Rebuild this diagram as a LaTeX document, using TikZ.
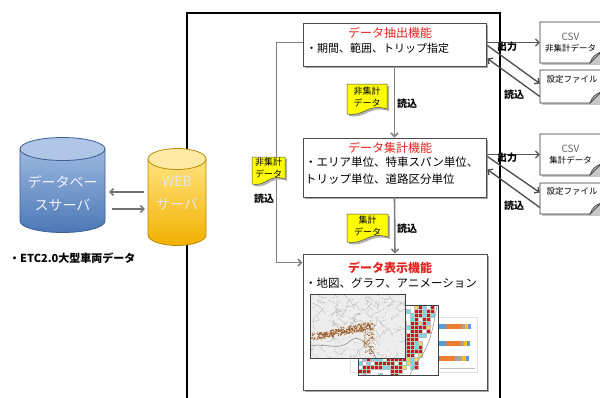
\documentclass[tikz,border=0pt]{standalone}
\usepackage{fontspec}
\setmainfont{Noto Sans CJK JP}
\usetikzlibrary{arrows.meta,calc,shadows}

\definecolor{fred}{HTML}{E8231F}
\definecolor{connGray}{HTML}{808080}
\definecolor{darkArr}{HTML}{4A4A4A}
\definecolor{cylBlueTop}{HTML}{AFC6E6}
\definecolor{cylBlueA}{HTML}{9CB8E0}
\definecolor{cylBlueB}{HTML}{4C78B6}
\definecolor{cylBlueEdge}{HTML}{3B5E8E}
\definecolor{cylYelTop}{HTML}{FFEAA3}
\definecolor{cylYelA}{HTML}{FFE37E}
\definecolor{cylYelB}{HTML}{F2B000}
\definecolor{cylYelEdge}{HTML}{B58C0A}
\definecolor{mapBrown}{HTML}{9A5A1E}
\definecolor{gridRed}{HTML}{C8161D}
\definecolor{gridCyan}{HTML}{6ADCE8}
\definecolor{gridYellow}{HTML}{F4D35E}
\definecolor{barBlue}{HTML}{5B9BD5}
\definecolor{barOrange}{HTML}{ED7D31}
\definecolor{barGray}{HTML}{A5A5A5}
\definecolor{barYellow}{HTML}{FFC000}
\definecolor{memoYellow}{HTML}{FFFF00}

% yellow memo with a wavy lower edge: x1 y1 x2 y2
\newcommand\mkydoc[4]{%
  \fill[black!30] ({#1+2},{#2+2}) -- ({#3+2},{#2+2}) -- ({#3+2},{#4-4}) .. controls ({#3-0.5*(#3-#1)+2},{#4-10}) and ({#1+0.45*(#3-#1)+2},{#4+4}) .. ({#1+2},{#4+1}) -- cycle;
  \filldraw[fill=memoYellow, draw=black!70, line width=0.5pt] (#1,#2) -- (#3,#2) -- (#3,{#4-6}) .. controls ({#3-0.5*(#3-#1)},{#4-12}) and ({#1+0.45*(#3-#1)},{#4+2}) .. (#1,{#4-1}) -- cycle;
}
% file sheet with a curled lower right corner: x1 y1 x2 y2
\newcommand\mkfdoc[4]{%
  \fill[black!22] ({#1+2},{#2+2}) rectangle ({#3+2},{#4+2});
  \filldraw[fill=white, draw=black!80, line width=0.9pt] (#1,#2) -- (#3,#2) -- (#3,{#4-11}) -- ({#3-11},#4) -- (#1,#4) -- cycle;
  \filldraw[fill=black!30, draw=black!75, line width=0.6pt] ({#3-11},#4) .. controls ({#3-9},{#4-6}) and ({#3-6},{#4-9}) .. (#3,{#4-11}) -- cycle;
}

\begin{document}
\begin{tikzpicture}[x=1pt,y=-1pt,
  funcbox/.style={draw=black!70, line width=0.8pt, fill=white, inner sep=0pt,
    drop shadow={shadow xshift=1.5pt, shadow yshift=-1.5pt, opacity=0.35, fill=black}},
  ttl/.style={text=fred, font=\fontsize{12}{14}\selectfont, inner sep=0pt},
  bodytxt/.style={font=\fontsize{11.5}{17}\selectfont, anchor=west, inner sep=0pt, align=left},
  conn/.style={draw=connGray, line width=1.6pt, -{Straight Barb[length=3.5pt,width=7pt]}},
  cylarr/.style={draw=black!55, line width=1.3pt, -{Straight Barb[length=3.5pt,width=7pt]}},
  outarr/.style={draw=black!65, line width=1.2pt, -{Straight Barb[length=3.5pt,width=7pt]}},
  diagarr/.style={draw=darkArr, line width=1.3pt, -{Straight Barb[length=3.5pt,width=7pt]}},
  frameline/.style={draw=black, line width=1.5pt},
  cyltxt/.style={font=\fontsize{14}{23}\selectfont, align=center, inner sep=0pt},
  memotxt/.style={font=\fontsize{9}{11.5}\selectfont, align=center, inner sep=0pt},
  tag/.style={font=\bfseries\fontsize{10}{12}\selectfont, inner sep=0pt},
  filetxt/.style={font=\fontsize{8.5}{11}\selectfont, inner sep=0pt, align=center, minimum width=61pt},
]
\useasboundingbox (0,0) rectangle (600,397);
\clip (0,0) rectangle (600,397);
\fill[white] (0,0) rectangle (600,397);

% system frame
\draw[frameline] (187,400) -- (187,13) -- (500,13) -- (500,400);

% database server cylinder
\path[top color=cylBlueA, bottom color=cylBlueB, draw=cylBlueEdge, line width=0.8pt]
  (20,149) -- (20,221) arc[start angle=180, end angle=360, x radius=42.5pt, y radius=11.5pt] -- (105,149) -- cycle;
\path[fill=cylBlueTop, draw=cylBlueEdge, line width=0.8pt] (62.5,149) ellipse[x radius=42.5pt, y radius=11.5pt];
\node[cyltxt, text=white!85!cylBlueA, minimum width=85pt] (db) at (62.5,193) {データベー\\スサーバ};

% web server cylinder
\path[top color=cylYelA, bottom color=cylYelB, draw=cylYelEdge, line width=0.8pt]
  (148,159) -- (148,235) arc[start angle=180, end angle=360, x radius=29pt, y radius=10.5pt] -- (206,159) -- cycle;
\path[fill=cylYelTop, draw=cylYelEdge, line width=0.8pt] (177,159) ellipse[x radius=29pt, y radius=10.5pt];
\node[cyltxt, text=white!90!black, minimum width=58pt] (web) at (177,193) {WEB\\サーバ};

\draw[cylarr] ($(web.west)+(-4,-1)$) -- ($(db.east)+(4,-1)$);
\draw[cylarr] ($(db.east)+(7,16)$) -- ($(web.west)+(-3,16)$);

\node[font=\bfseries\fontsize{11}{13}\selectfont, anchor=west, inner sep=0pt] (etc) at (9,258) {・ETC2.0大型車両データ};

% function boxes
\node[funcbox, minimum width=183pt, minimum height=43pt] (b1) at (394.5,44.5) {};
\node[funcbox, minimum width=183pt, minimum height=59pt] (b2) at (394.5,167.5) {};
\node[funcbox, minimum width=184pt, minimum height=136pt] (b3) at (395,322) {};

% gray flow connectors
\draw[conn] ($(b1.west)+(0,-2)$) -- ++(-26,0) |- ($(b3.north west)+(0,9)$);
\draw[conn] (b1.south) -- (b2.north);
\draw[conn] (b2.south) -- (b3.north);

% box texts
\node[ttl] (t1) at (390,33) {データ抽出機能};
\node[bodytxt, font=\fontsize{11}{14}\selectfont] (l1) at (306,48.5) {・期間、範囲、トリップ指定};
\node[ttl] (t2) at (390,148) {データ集計機能};
\node[bodytxt] (l2) at (305,171) {・エリア単位、特車スパン単位、\\トリップ単位、道路区分単位};
\node[ttl, font=\bfseries\fontsize{12}{14}\selectfont] (t3) at (390,268) {データ表示機能};
\node[bodytxt] (l3) at (305,283) {・地図、グラフ、アニメーション};

% bar chart
\fill[white] (350,317) rectangle (477,372);
\draw[black!12, line width=0.3pt] (350,317) rectangle (477,372);
\foreach \yy/\a/\b/\c/\d in {324/446/462/465/468, 341/446/461/464/467, 356/440/455/462/466}{
  \fill[barBlue] (400,\yy) rectangle (\a,{\yy+5});
  \fill[barOrange] (\a,\yy) rectangle (\b,{\yy+5});
  \fill[barGray] (\b,\yy) rectangle (\c,{\yy+5});
  \fill[barYellow] (\c,\yy) rectangle (\d,{\yy+5});
  \fill[barBlue] (\d,\yy) rectangle ({\d+2.5},{\yy+5});
}
\draw[black!25, line width=0.3pt] (440,368) -- (475,368);

% mesh map
\begin{scope}
\clip (358,305) rectangle (438,375);
\fill[white] (358,305) rectangle (438,375);
\pgfmathsetseed{11}
\foreach \i in {0,...,19}{
  \foreach \j in {0,...,17}{
    \pgfmathsetmacro\cx{358+4*\i}
    \pgfmathsetmacro\cy{305+4*\j}
    \pgfmathsetmacro\land{(\cx+2) < (436-0.3*(\cy-305)) ? 1 : 0}
    \pgfmathsetmacro\dA{abs(\cx+2-(420-0.35*(\cy-305)))}
    \pgfmathsetmacro\dB{abs(\cx+2-(433-0.6*(\cy-305)))}
    \pgfmathsetmacro\dC{abs(\cy+2-(371-0.35*(\cx-358)))}
    \pgfmathsetmacro\r{rnd}
    \pgfmathtruncatemacro\kind{(\land<0.5) ? 0 : ((min(\dA,\dB,\dC)<3.3) ? 1 : ((\r<0.08) ? 1 : ((\r<0.38) ? 2 : ((\r<0.50 && \cx>400) ? 3 : 0))))}
    \ifcase\kind
    \or \filldraw[fill=gridRed, draw=black!25, line width=0.2pt] (\cx,\cy) rectangle ++(4,4);
    \or \filldraw[fill=gridCyan, draw=black!25, line width=0.2pt] (\cx,\cy) rectangle ++(4,4);
    \or \filldraw[fill=gridYellow, draw=black!25, line width=0.2pt] (\cx,\cy) rectangle ++(4,4);
    \fi
  }
}
\draw[black!45, line width=0.5pt] (437,305) .. controls (434,325) and (430,345) .. (420,358) .. controls (415,365) and (412,370) .. (410,375);
\end{scope}
\draw[black!75, line width=0.8pt] (358,305) rectangle (438,375);

% topographic map with urban area
\begin{scope}
\clip (310,294) rectangle (405,358);
\fill[black!7] (310,294) rectangle (405,358);
\pgfmathsetseed{42}
\foreach \k in {1,...,80}{
  \draw[black!30, line width=0.3pt] ({310+95*rnd},{294+64*rnd}) -- ++({16*rnd-8},{16*rnd-8}) -- ++({16*rnd-8},{16*rnd-8});
}
\draw[black!50, line width=0.5pt] (310,346) .. controls (325,342) and (338,352) .. (350,341) .. controls (358,334) and (368,342) .. (376,358);
\foreach \k in {1,...,260}{
  \pgfmathsetmacro\t{rnd}
  \fill[mapBrown] ({313+58*\t+4*rand},{337-11*\t+3.5*rand}) circle (0.7pt);
}
\foreach \k in {1,...,90}{
  \fill[mapBrown!85] ({369+5*rand},{328+26*rnd}) circle (0.6pt);
}
\foreach \k in {1,...,140}{
  \fill[mapBrown!55] ({310+95*rnd},{294+64*rnd}) circle (0.45pt);
}
\end{scope}
\draw[black!75, line width=0.8pt] (310,294) rectangle (405,358);

% memos on the flows
\mkydoc{347}{84}{387}{115}
\node[memotxt] (m1) at (367,97) {非集計\\データ};
\node[tag] (r1) at (407,104) {読込};
\mkydoc{347}{214}{388}{243}
\node[memotxt] (m2) at (367.5,226) {集計\\データ};
\node[tag] (r2) at (407,229) {読込};
\mkydoc{252}{157}{285}{185}
\node[memotxt] (m3) at (268.5,168) {非集計\\データ};
\node[tag] (r3) at (264,199) {読込};

% output files
\mkfdoc{540}{22}{601}{63}
\node[filetxt, minimum height=41pt] (f1) at (570.5,42.5) {{\fontsize{10}{12}\selectfont\color{black!60}CSV}\\非集計データ};
\mkfdoc{540}{70}{601}{103}
\node[filetxt, minimum height=33pt] (f2) at (570.5,86.5) {\hspace*{3pt}設定ファイル\\[4pt]};
\mkfdoc{540}{134}{601}{175}
\node[filetxt, minimum height=41pt] (f3) at (570.5,154.5) {{\fontsize{10}{12}\selectfont\color{black!60}CSV}\\集計データ};
\mkfdoc{540}{183}{601}{214}
\node[filetxt, minimum height=31pt] (f4) at (570.5,198.5) {\hspace*{3pt}設定ファイル\\[4pt]};

% output / read arrows
\draw[outarr] (b1.east |- f1.west) -- (f1.west);
\draw[diagarr] ($(b1.east)+(1,1)$) -- ($(f2.west)+(0,-3)$);
\draw[diagarr] ($(f2.west)+(0,10)$) -- ($(b1.east)+(1,14)$);
\node[tag] (o1) at (507,47) {出力};
\node[tag] (i1) at (514,95) {読込};

\draw[outarr] (b2.east |- f3.west) -- (f3.west);
\draw[diagarr] ($(b2.east)+(1,-11)$) -- ($(f4.west)+(0,-6)$);
\draw[diagarr] ($(f4.west)+(0,9)$) -- ($(b2.east)+(1,2)$);
\node[tag] (o2) at (507,158) {出力};
\node[tag] (i2) at (514,206) {読込};
\end{tikzpicture}
\end{document}
